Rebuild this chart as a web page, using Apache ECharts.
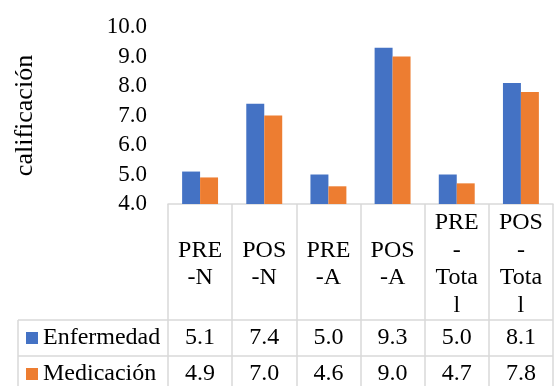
<!DOCTYPE html>
<html>
<head>
<meta charset="utf-8">
<script src="https://cdn.jsdelivr.net/npm/echarts@6/dist/echarts.min.js"></script>
<style>
  html, body { margin: 0; padding: 0; background: #fff; }
  #chart { width: 554px; height: 386px; }
</style>
</head>
<body>
<div id="chart"></div>
<script>
// Chart data
var categories = ["PRE\n-N", "POS\n-N", "PRE\n-A", "POS\n-A", "PRE\n-\nTota\nl", "POS\n-\nTota\nl"];
var enfermedad = [5.1, 7.4, 5.0, 9.3, 5.0, 8.1];
var medicacion = [4.9, 7.0, 4.6, 9.0, 4.7, 7.8];
var seriesNames = ["Enfermedad", "Medicación"];
var yTicks = { min: 4, max: 10, interval: 1 };

// Layout (pixels)
var W = 554, H = 386;
var gridLeft = 168, gridRight = 1, gridTop = 27, axisY = 204;
var headerH = 116, rowH = 36;
var tableLeft = 18;
var font = "Liberation Serif";
var lineColor = "#d9d9d9";

var chart = echarts.init(document.getElementById("chart"));

function fmt(v) { return v.toFixed(1); }

// Table rules that go past the plot area
var rowTop1 = axisY + headerH, rowTop2 = rowTop1 + rowH;
var tableLines = [
  [tableLeft, rowTop1, W - gridRight, rowTop1],
  [tableLeft, rowTop2, W - gridRight, rowTop2],
  [tableLeft, rowTop1, tableLeft, H]
].map(function (l) {
  return {
    type: "line",
    shape: { x1: l[0], y1: l[1], x2: l[2], y2: l[3] },
    style: { stroke: lineColor, lineWidth: 1.5 }
  };
});

var option = {
  animation: false,
  textStyle: { fontFamily: font },
  grid: {
    left: gridLeft, right: gridRight, top: gridTop, bottom: H - axisY,
    containLabel: false, outerBoundsMode: "none"
  },
  legend: {
    orient: "vertical",
    left: 26,
    top: rowTop1,
    height: 2 * rowH + 10,
    padding: 0,
    itemGap: 0,
    itemWidth: 12,
    itemHeight: 12,
    icon: "rect",
    textStyle: { fontFamily: font, fontSize: 24, color: "#000", lineHeight: rowH },
    data: seriesNames
  },
  xAxis: [
    {
      type: "category",
      data: categories,
      axisLine: { lineStyle: { color: lineColor, width: 1.5 } },
      axisTick: { show: true, length: H - axisY, lineStyle: { color: lineColor, width: 1.5 } },
      axisLabel: {
        interval: 0, margin: headerH / 2 + 2, verticalAlign: "middle",
        fontFamily: font, fontSize: 24, lineHeight: 27.5, color: "#000"
      }
    },
    {
      type: "category",
      data: enfermedad.map(fmt),
      position: "bottom",
      axisLine: { show: false }, axisTick: { show: false },
      axisLabel: {
        interval: 0, margin: headerH + rowH / 2, verticalAlign: "middle",
        fontFamily: font, fontSize: 24, color: "#000"
      }
    },
    {
      type: "category",
      data: medicacion.map(fmt),
      position: "bottom",
      axisLine: { show: false }, axisTick: { show: false },
      axisLabel: {
        interval: 0, margin: headerH + rowH * 1.5, verticalAlign: "middle",
        fontFamily: font, fontSize: 24, color: "#000"
      }
    }
  ],
  yAxis: {
    type: "value",
    min: yTicks.min, max: yTicks.max, interval: yTicks.interval,
    name: "calificación",
    nameLocation: "middle",
    nameGap: 130,
    nameTextStyle: { fontFamily: font, fontSize: 26, color: "#000" },
    axisLine: { show: false }, axisTick: { show: false },
    splitLine: { show: false },
    axisLabel: { formatter: fmt, margin: 21, fontFamily: font, fontSize: 23, color: "#000" }
  },
  series: [
    {
      name: seriesNames[0], type: "bar", data: enfermedad,
      itemStyle: { color: "#4472C4" },
      barGap: "0%", barCategoryGap: "44%"
    },
    {
      name: seriesNames[1], type: "bar", data: medicacion,
      itemStyle: { color: "#ED7D31" },
      barGap: "0%", barCategoryGap: "44%"
    }
  ],
  graphic: tableLines
};

chart.setOption(option);
</script>
</body>
</html>
